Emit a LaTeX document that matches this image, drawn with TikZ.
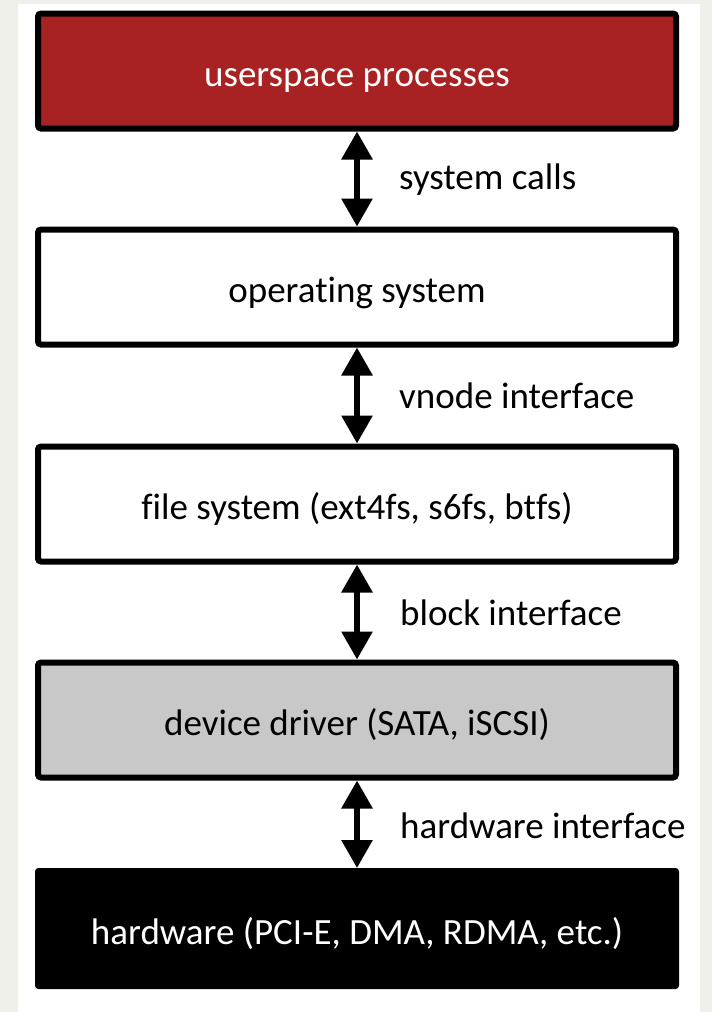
\documentclass[tikz,border=0pt]{standalone}
\usepackage{fontspec}
\setmainfont{Carlito}[Ligatures=NoCommon]
\usetikzlibrary{arrows.meta}
\definecolor{pagegrey}{RGB}{240,240,235}
\definecolor{userred}{RGB}{168,34,36}
\definecolor{drivergrey}{RGB}{200,200,200}
\tikzset{
  layer/.style={draw=black, line width=6pt, rounded corners=3pt,
    minimum width=638pt, minimum height=115pt, inner sep=0pt,
    text height=31pt, text depth=0pt,
    font=\fontsize{37}{44}\selectfont},
  link/.style={line width=6pt, {Triangle[width=30pt,length=28pt]}-{Triangle[width=30pt,length=28pt]}},
  linklabel/.style={anchor=west, inner sep=0pt, font=\fontsize{37}{44}\selectfont}
}
\begin{document}
\begin{tikzpicture}[x=1pt,y=-1pt]
  % page background and white sheet
  \fill[pagegrey] (0,0) rectangle (712,1012);
  \fill[white] (18,4) rectangle (700,1012);
  \useasboundingbox (0,0) rectangle (712,1012);

  % stack of layers
  \node[layer, fill=userred, text=white] (user) at (357,71) {userspace processes};
  \node[layer, fill=white] (os) at (357,287) {operating system};
  \node[layer, fill=white] (fs) at (357,504) {file system (ext4fs, s6fs, btfs)};
  \node[layer, fill=drivergrey] (dd) at (357,720) {device driver (SATA, iSCSI)};
  \node[layer, fill=black, text=white, line width=1pt, minimum width=643pt, minimum height=120pt] (hw) at (357,928.5) {hardware (PCI-E, DMA, RDMA, etc.)};

  % interfaces between layers
  \draw[link] (user.south) -- (os.north);
  \draw[link] (os.south) -- (fs.north);
  \draw[link] (fs.south) -- (dd.north);
  \draw[link] (dd.south) -- (hw.north);

  \node[linklabel] (l1) at (399,180) {system calls};
  \node[linklabel] (l2) at (399,396) {vnode interface};
  \node[linklabel] (l3) at (400,613) {block interface};
  \node[linklabel] (l4) at (400,826) {hardware interface};
\end{tikzpicture}
\end{document}
